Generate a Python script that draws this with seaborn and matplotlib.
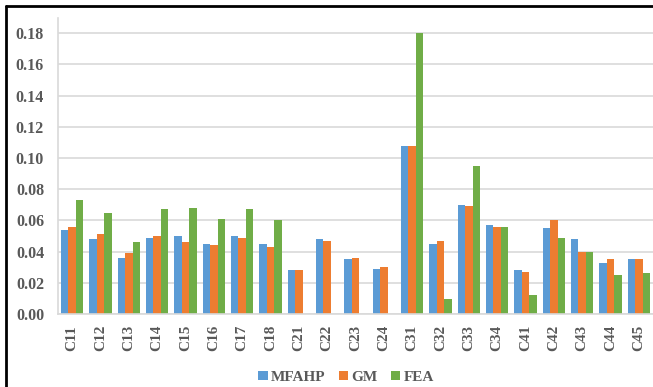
import matplotlib
matplotlib.use("Agg")
import matplotlib.pyplot as plt
from matplotlib.lines import Line2D
from matplotlib.patches import Patch
import numpy as np
import pandas as pd
import seaborn as sns

categories = ["C11", "C12", "C13", "C14", "C15", "C16", "C17", "C18",
              "C21", "C22", "C23", "C24",
              "C31", "C32", "C33", "C34",
              "C41", "C42", "C43", "C44", "C45"]
mfahp = [0.054, 0.048, 0.036, 0.049, 0.050, 0.045, 0.050, 0.045,
         0.028, 0.048, 0.035, 0.029,
         0.108, 0.045, 0.070, 0.057,
         0.028, 0.055, 0.048, 0.033, 0.035]
gm = [0.056, 0.051, 0.039, 0.050, 0.046, 0.044, 0.049, 0.043,
      0.028, 0.047, 0.036, 0.030,
      0.108, 0.047, 0.069, 0.056,
      0.027, 0.060, 0.040, 0.035, 0.035]
fea = [0.073, 0.065, 0.046, 0.067, 0.068, 0.061, 0.067, 0.060,
       np.nan, np.nan, np.nan, np.nan,
       0.180, 0.0095, 0.095, 0.056,
       0.012, 0.049, 0.040, 0.025, 0.026]
series_names = ["MFAHP", "GM", "FEA"]
colors = ["#5B9BD5", "#ED7D31", "#70AD47"]
yticks = [0.00, 0.02, 0.04, 0.06, 0.08, 0.10, 0.12, 0.14, 0.16, 0.18]

df = pd.DataFrame({
    "Criterion": categories * 3,
    "Series": [series_names[0]] * len(categories) + [series_names[1]] * len(categories) + [series_names[2]] * len(categories),
    "Value": mfahp + gm + fea,
})

sns.set_style("white")
plt.rcParams["font.family"] = ["Liberation Serif", "DejaVu Serif"]
plt.rcParams["font.weight"] = "bold"

fig = plt.figure(figsize=(6.53, 3.87), dpi=100)
ax = fig.add_axes([0.0888, 0.1886, 0.9112, 0.7659])

sns.barplot(data=df, x="Criterion", y="Value", hue="Series", order=categories,
            hue_order=series_names, palette=colors, width=0.78, gap=0,
            saturation=1, ax=ax, legend=False, edgecolor="none", linewidth=0)

txt = "#595959"
ax.set_ylim(0, 0.19)
ax.set_yticks(yticks)
ax.set_yticklabels([f"{v:.2f}" for v in yticks], fontsize=11.5, fontweight="bold", color=txt)
ax.set_xlim(-0.5, len(categories) - 0.5)
ax.set_xticks(range(len(categories)))
ax.set_xticklabels(categories, rotation=90, fontsize=11, fontweight="bold", color=txt)
ax.tick_params(axis="y", length=0, pad=10)
ax.tick_params(axis="x", length=0, pad=8)
ax.set_xlabel("")
ax.set_ylabel("")
ax.grid(axis="y", color="#D9D9D9", linewidth=1.2)
ax.set_axisbelow(True)
for s in ["top", "right"]:
    ax.spines[s].set_visible(False)
ax.spines["left"].set_color("#D9D9D9")
ax.spines["bottom"].set_color("#D9D9D9")
ax.spines["left"].set_linewidth(1.2)
ax.spines["bottom"].set_linewidth(1.2)

handles = [Patch(facecolor=c, edgecolor="none") for c in colors]
fig.legend(handles, series_names, loc="center", bbox_to_anchor=(0.53, 0.025),
           ncol=3, frameon=False, handlelength=0.6, handleheight=0.6,
           handletextpad=0.2, columnspacing=0.9,
           prop={"family": "Liberation Serif", "weight": "bold", "size": 11},
           labelcolor=txt)

# figure border (left and top visible)
fig.add_artist(Line2D([6 / 653, 6 / 653], [0, 1 - 6 / 387], color="black", linewidth=2, transform=fig.transFigure))
fig.add_artist(Line2D([6 / 653, 1], [1 - 6 / 387, 1 - 6 / 387], color="black", linewidth=2, transform=fig.transFigure))

fig.savefig("out.png", dpi=100)
